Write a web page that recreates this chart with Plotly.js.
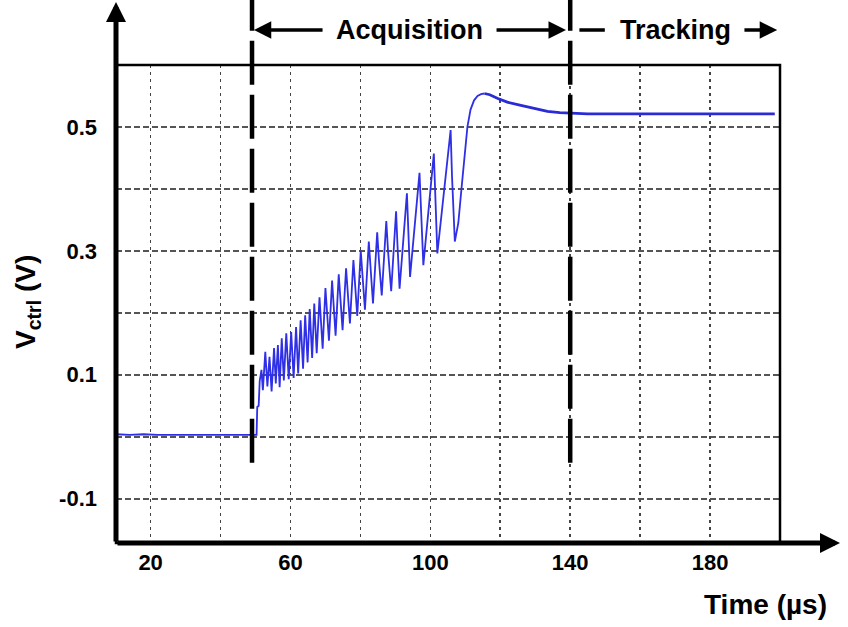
<!DOCTYPE html>
<html><head><meta charset="utf-8">
<script src="https://cdn.plot.ly/plotly-3.0.1.min.js"></script>
<style>html,body{margin:0;padding:0;background:#fff;} #chart{width:848px;height:627px;}</style>
</head><body><div id="chart"></div>
<script>
// ---- data ----
const time = [
  10.1, 14, 18, 22, 30, 40, 50.3,
  50.5, 50.9, 51.2, 51.7,
  52.1, 52.8, 53.4, 54.0, 54.6, 55.3, 55.8, 56.4, 56.9, 57.5,
  58.1, 58.8, 59.5, 60.2, 60.9, 61.6, 62.2, 62.9, 63.6, 64.2,
  64.9, 65.5, 66.2, 66.8, 67.5, 68.3, 69.2, 70.0, 71.0, 71.9,
  72.9, 73.8, 74.9, 75.9, 77.0, 78.0, 79.1, 80.1, 81.3, 82.4,
  83.6, 84.8, 85.3, 86.1, 87.4, 87.9, 88.8, 90.2, 90.6, 91.2, 93.3, 93.6, 94.2, 96.9, 97.3,
  98.0, 101.0, 101.4, 102.0, 105.8, 106.2, 107.0, 108.0, 108.9, 109.8, 110.6, 111.5,
  112.5, 113.5, 114.5, 115.5, 117, 119.3, 122, 125.9, 130, 133.5,
  137, 140, 145, 150, 160, 180, 198.5
];
const vctrl = [
  0.004, 0.003, 0.004, 0.003, 0.003, 0.003, 0.003,
  0.048, 0.050, 0.090, 0.108,
  0.075, 0.137, 0.081, 0.129, 0.073, 0.143, 0.086, 0.148, 0.080, 0.159,
  0.091, 0.167, 0.093, 0.169, 0.095, 0.177, 0.102, 0.188, 0.110, 0.196,
  0.120, 0.206, 0.127, 0.215, 0.135, 0.225, 0.142, 0.240, 0.155, 0.252,
  0.163, 0.262, 0.172, 0.272, 0.183, 0.285, 0.195, 0.300, 0.205, 0.315,
  0.215, 0.330, 0.285, 0.228, 0.348, 0.300, 0.235, 0.364, 0.310, 0.239, 0.393, 0.335, 0.258, 0.426, 0.360,
  0.277, 0.457, 0.385, 0.296, 0.495, 0.420, 0.315, 0.345, 0.400, 0.450, 0.500, 0.528,
  0.543, 0.550, 0.553, 0.554, 0.552, 0.546, 0.540, 0.535, 0.529, 0.525,
  0.523, 0.522, 0.521, 0.521, 0.521, 0.521, 0.521
];
const xTickVals = [20, 60, 100, 140, 180];
const xTickText = ['20', '60', '100', '140', '180'];
const xGridVals = [40, 80, 120, 160];
const yTickVals = [-0.1, 0.1, 0.3, 0.5];
const yTickText = ['-0.1', '0.1', '0.3', '0.5'];
const yGridVals = [0, 0.2, 0.4];
const phaseNames = ['Acquisition', 'Tracking'];
const phaseBounds = [49, 140];
const xTitle = 'Time (µs)';
const yTitle = 'V<sub>ctrl</sub> (V)';

// ---- layout ----
const W = 848, H = 627;
const M = {l: 116, r: 68, t: 65, b: 84};
const plotW = W - M.l - M.r, plotH = H - M.t - M.b;
const xRange = [10.1, 200], yRange = [-0.1715, 0.6];
const FONT = 'Liberation Sans, Arial, sans-serif';
const py = v => (v - yRange[0]) / (yRange[1] - yRange[0]);

const peakIdx = vctrl.indexOf(Math.max(...vctrl));
const traces = [
  {x: time.slice(0, peakIdx + 1), y: vctrl.slice(0, peakIdx + 1), type: 'scatter', mode: 'lines',
   line: {color: '#2f2fe6', width: 1.8}, hoverinfo: 'skip'},
  {x: time.slice(peakIdx), y: vctrl.slice(peakIdx), type: 'scatter', mode: 'lines',
   line: {color: '#2a2ad8', width: 2.8}, hoverinfo: 'skip'}
];

const topY = 1 + M.t / plotH;          // very top of figure
const dashBottom = py(-0.042);
const shapes = [
  {type: 'rect', xref: 'paper', yref: 'paper', x0: 0, x1: 1, y0: 0, y1: 1,
   line: {color: '#000', width: 2.5}, layer: 'above'}
];
phaseBounds.forEach(b => shapes.push({
  type: 'line', xref: 'x', yref: 'paper', x0: b, x1: b, y0: dashBottom, y1: topY,
  line: {color: '#000', width: 4.5, dash: '44px,10px'}, layer: 'above'
}));

const aY = 1 + (M.t - 30) / plotH;
const annFont = {family: FONT, size: 27, color: '#000', weight: 'bold'};
const arrow = {text: '', showarrow: true, arrowcolor: '#000', standoff: 0};
const annotations = [
  // y-axis arrow
  Object.assign({xref: 'paper', yref: 'paper', x: 0, y: 1 + (M.t - 2) / plotH, ax: 0, ay: plotH + M.t - 2,
   axref: 'pixel', ayref: 'pixel', arrowhead: 2, arrowsize: 0.8, arrowwidth: 5}, arrow),
  // x-axis arrow
  Object.assign({xref: 'paper', yref: 'paper', x: (840 - M.l) / plotW, y: 0, ax: -(840 - M.l), ay: 0,
   arrowhead: 2, arrowsize: 0.8, arrowwidth: 5}, arrow),
  // Acquisition arrows
  Object.assign({xref: 'x', yref: 'paper', x: phaseBounds[0] + 0.5, y: aY, axref: 'x', ayref: 'paper', ax: 69.6, ay: aY,
   arrowhead: 2, arrowsize: 1, arrowwidth: 3.5}, arrow),
  Object.assign({xref: 'x', yref: 'paper', x: phaseBounds[1] - 1.2, y: aY, axref: 'x', ayref: 'paper', ax: 118.5, ay: aY,
   arrowhead: 2, arrowsize: 1, arrowwidth: 3.5}, arrow),
  {xref: 'x', yref: 'paper', x: 93.9, y: aY, text: '<b>' + phaseNames[0] + '</b>', showarrow: false,
   font: annFont, xanchor: 'center', yanchor: 'middle'},
  // Tracking
  Object.assign({xref: 'x', yref: 'paper', x: 149.9, y: aY, axref: 'x', ayref: 'paper', ax: 142.2, ay: aY,
   arrowhead: 0, arrowwidth: 3.5}, arrow),
  {xref: 'x', yref: 'paper', x: 170.1, y: aY, text: '<b>' + phaseNames[1] + '</b>', showarrow: false,
   font: annFont, xanchor: 'center', yanchor: 'middle'},
  Object.assign({xref: 'x', yref: 'paper', x: 199.2, y: aY, axref: 'x', ayref: 'paper', ax: 189.4, ay: aY,
   arrowhead: 2, arrowsize: 1, arrowwidth: 3.5}, arrow),
  // axis titles
  {xref: 'paper', yref: 'paper', x: (829 - M.l) / plotW, y: -(604 - (M.t + plotH)) / plotH,
   text: '<b>' + xTitle + '</b>', showarrow: false, xanchor: 'right', yanchor: 'middle',
   font: {family: FONT, size: 28, color: '#000'}},
  {xref: 'paper', yref: 'paper', x: (27 - M.l) / plotW, y: (M.t + plotH - 302) / plotH,
   text: '<b>' + yTitle + '</b>', showarrow: false, textangle: -90, xanchor: 'center', yanchor: 'middle',
   font: {family: FONT, size: 28, color: '#000'}}
];

const gridX = {showgrid: true, gridcolor: '#444', gridwidth: 1.6, griddash: '3px,4px'};
const gridY = {showgrid: true, gridcolor: '#555', gridwidth: 1.6, griddash: '6px,3px'};
const layout = {
  width: W, height: H, margin: M, showlegend: false,
  paper_bgcolor: '#fff', plot_bgcolor: '#fff',
  font: {family: FONT, color: '#000'},
  xaxis: Object.assign({range: xRange, tickmode: 'array', tickvals: xTickVals, ticktext: xTickText, ticks: '',
          showline: false, zeroline: false,
          minor: Object.assign({tickmode: 'array', tickvals: xGridVals, ticks: ''}, gridX),
          tickfont: {family: FONT, size: 22, color: '#000', weight: 'bold'}, ticklabelstandoff: 4}, gridX),
  yaxis: Object.assign({range: yRange, tickmode: 'array', tickvals: yTickVals, ticktext: yTickText, ticks: '',
          showline: false, zeroline: false,
          minor: Object.assign({tickmode: 'array', tickvals: yGridVals, ticks: ''}, gridY),
          tickfont: {family: FONT, size: 22, color: '#000', weight: 'bold'}, ticklabelstandoff: 18}, gridY),
  shapes: shapes, annotations: annotations
};

Plotly.newPlot('chart', traces, layout, {staticPlot: true, displayModeBar: false});
</script>
</body></html>
